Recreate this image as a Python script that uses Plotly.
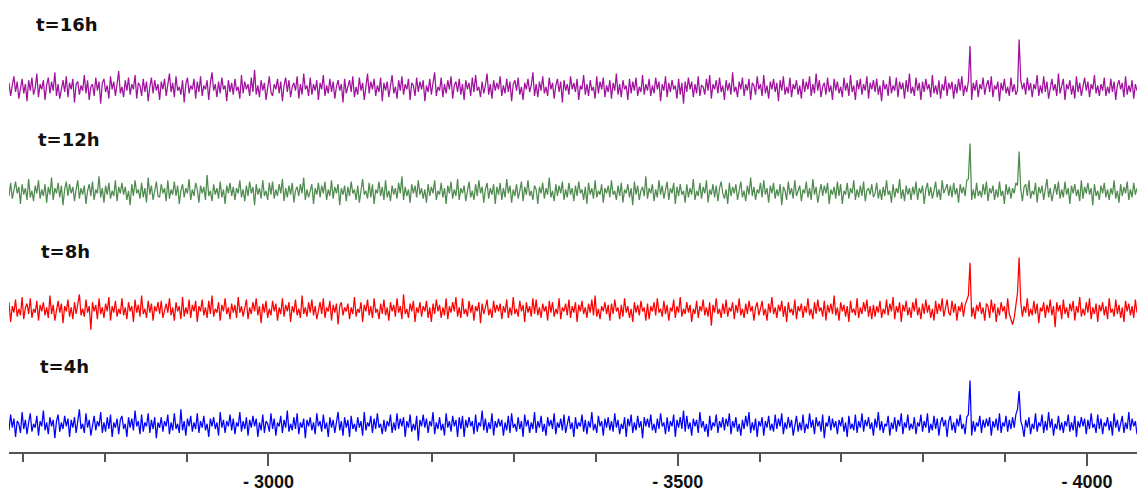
import numpy as np
import plotly.graph_objects as go

# ---- data (intensity offsets from each baseline, arbitrary units) ----
X_START = -2683
X_STEP = 2

LABELS = ["t=16h", "t=12h", "t=8h", "t=4h"]
COLORS = ["#a0129e", "#4f8b4f", "#ff0000", "#0000ff"]

# two sharp resonances (axis units) and their heights per spectrum
PEAK_X = [-3857, -3917]
PEAK_H = [[32, 37], [37, 31], [36, 40], [34, 26]]

Y_16H = [
    4,-6,2,9,-3,5,-8,1,7,-4,3,-10,6,-2,8,-5,0,11,-7,3,-1,6,-9,
    2,8,-4,5,-2,12,-6,3,-8,1,6,-3,9,-7,4,-1,7,-11,3,5,-5,2,-2,
    10,-4,6,-9,1,3,-6,8,-2,5,-12,4,7,-3,2,-8,9,-1,5,-6,3,13,-4,
    1,-7,6,-2,8,-5,3,-1,10,-8,4,2,-6,7,-3,5,-10,1,8,-4,6,-2,3,
    -9,5,-1,7,-6,2,11,-3,4,-7,9,-2,1,-5,6,-11,3,8,-4,2,-1,7,-8,
    5,-3,9,-6,2,-1,6,-9,4,12,-2,3,-7,5,-4,8,-1,2,-10,6,-3,4,-5,
    7,-2,1,-8,10,-4,5,-1,3,-6,8,-3,14,-5,2,-7,6,-2,4,-9,1,9,-3,
    -6,3,-1,7,-4,5,-10,2,8,-3,6,-7,1,4,-2,9,-8,3,-5,11,-1,2,-6,
    8,-5,3,-2,6,-9,4,-1,10,-6,2,-4,7,-3,5,-8,1,6,-2,3,-11,7,-4,
    2,6,-3,9,-7,1,-5,8,-2,4,-9,3,11,-4,5,-1,7,-6,2,-3,8,-10,4,
    -2,5,-7,3,10,-4,1,-8,6,-2,9,-5,3,-1,7,-9,4,2,-6,8,-3,5,-1,
    6,-10,2,-3,7,-5,4,12,-6,1,-2,8,-7,3,-4,6,-1,9,-8,2,5,-3,7,
    -5,3,-9,6,-1,4,-6,8,-3,10,-2,1,-7,5,-4,2,11,-5,3,-8,6,-2,4,
    -1,9,-6,2,-4,7,-3,5,-10,3,6,-2,8,-5,1,-9,4,-1,7,-3,2,12,-6,
    3,-7,5,-2,9,-4,1,-6,8,-1,4,-8,2,7,-3,5,-11,6,-2,3,-5,9,-1,
    4,-3,7,-9,2,-1,10,-5,3,-6,6,-2,1,-8,9,-4,5,-1,8,-7,2,-3,6,
    -8,4,-2,11,-5,3,-7,6,-1,2,-9,7,-4,5,-2,8,-6,1,-3,10,-5,3,-2,
    7,-6,2,-4,8,-1,5,-10,3,-2,9,-7,4,-3,6,-1,2,-8,7,-5,4,-12,5,
    -3,8,-1,5,-7,3,-4,9,-6,2,1,-5,7,-2,10,-8,3,-1,6,-4,8,-3,2,
    -9,6,-2,4,-5,12,-3,1,-7,5,-1,8,-6,3,-2,7,-9,4,2,-5,9,-1,3,
    -6,10,-4,2,-8,5,-1,7,-3,4,-10,6,-2,9,-5,1,-4,8,-7,3,-1,6,-5,
    2,-8,7,-3,5,-1,9,-6,3,-4,11,-2,6,-7,1,4,-5,8,-3,2,-9,7,-2,
    5,-4,1,-7,8,-2,4,-6,10,-3,2,-9,6,-1,7,-5,3,-2,9,-8,4,-1,6,
    -3,7,-5,2,-10,6,-1,3,-6,9,-4,2,-2,8,-7,5,-1,4,-8,6,-3,11,-4,
    1,-6,8,-2,4,-9,5,-3,7,-1,3,-7,10,-4,2,-5,6,-8,3,-2,9,-6,4,
    -1,5,-8,3,-4,7,-2,9,-6,2,-3,5,0,-9,4,-2,6,-7,3,-1,8,-5,2,
    6,-3,9,-7,2,-1,5,-10,4,-2,7,-4,1,-6,8,-3,3,-5,-2,0,6,-1,4,
    -5,8,-2,4,-7,3,-1,10,-6,2,-4,9,-3,5,-8,1,7,-2,3,-6,11,-4,2,
    7,-9,3,-1,6,-5,2,-8,9,-3,4,-6,1,8,-2,5,-7,3,-1,10,-4,2,-6,
    3,-2,8,-6,1,-4,7,-3,5,-9,2,6,-1,4,-7,9,-5,2,-3,6,-8,3,-2,
]

Y_12H = [
    -3,7,-5,2,8,-1,4,-9,6,-2,3,-6,10,-4,1,-7,5,-1,9,-5,2,-3,6,
    -8,4,-2,11,-6,3,-1,7,-4,5,-10,2,8,-3,6,-1,4,-7,2,9,-5,3,-2,
    5,-9,1,6,-3,8,-6,2,-1,12,-4,3,-8,5,-2,7,-5,1,-3,9,-7,4,-1,
    7,-2,4,-6,1,-10,6,-3,9,-1,2,-5,7,-4,3,-8,11,-2,5,-6,1,8,-3,
    -4,6,-1,3,-7,9,-5,2,-2,8,-3,5,-9,1,6,-4,3,-1,10,-6,2,-3,7,
    2,-8,5,-1,4,-6,13,-3,1,-7,6,-2,3,-5,8,-4,2,-9,5,-1,7,-3,4,
    -6,3,-1,9,-4,2,-7,5,-3,8,-1,4,-10,6,-2,3,-5,9,-3,1,-6,7,-2,
    8,-5,2,-3,6,-1,10,-7,3,-4,5,-2,7,-8,1,4,-3,6,-1,11,-6,2,-4,
    1,6,-9,3,-2,7,-4,5,-1,8,-6,2,-3,9,-5,4,-1,6,-10,3,-2,5,-7,
    4,-3,8,-1,2,-6,5,-8,3,10,-2,1,-5,7,-4,6,-9,2,-1,8,-3,4,-6,
    9,-4,1,-7,5,-2,3,-5,7,-1,12,-6,4,-3,2,-8,6,-1,5,-4,9,-2,3,
    -5,2,-8,6,-3,4,-1,9,-6,1,-2,7,-4,3,-9,5,-1,8,-5,2,-3,10,-6,
    3,-1,5,-7,2,8,-4,1,-6,6,-3,9,-1,4,-8,2,7,-5,3,-2,6,-9,4,
    -2,7,-6,3,-4,10,-1,5,-8,2,-3,6,-5,1,8,-7,4,-2,9,-3,1,-6,5,
    2,-9,4,-1,7,-5,3,-2,11,-4,1,-7,6,-3,5,-1,8,-6,2,-4,7,-2,3,
    -7,5,-3,8,-1,2,-6,4,-9,7,-2,3,-5,9,-4,1,-2,6,-8,3,-1,5,-4,
    9,-2,1,-6,5,-3,7,-8,2,-1,6,-4,3,-10,8,-2,5,-6,1,4,-3,12,-5,
    3,-1,6,-7,2,-4,9,-2,5,-5,1,8,-6,3,-1,7,-9,4,-3,6,-2,1,-8,
    6,-4,3,-2,10,-6,1,-3,7,-5,4,-1,9,-8,2,-2,6,-4,5,-7,3,8,-1,
    -5,2,-9,7,-3,4,-1,6,-6,2,8,-4,1,-7,5,-2,11,-3,4,-6,2,-1,7,
    -4,9,-2,3,-8,5,-1,7,-5,2,-3,6,-10,4,1,-6,8,-2,3,-5,9,-3,1,
    5,-7,2,-1,8,-4,3,-6,10,-2,4,-8,1,6,-3,5,-1,7,-9,2,-2,4,-5,
    8,-3,6,-9,1,-2,7,-5,3,-1,9,-6,2,-4,5,-3,8,-7,1,3,-2,6,-4,
    -1,7,-5,2,-6,4,-3,9,-2,1,-8,6,-4,3,-1,10,-5,2,-7,5,-2,3,-6,
    4,-2,8,-6,3,-1,5,-9,2,7,-3,4,-5,1,8,-4,2,-6,9,-1,3,6,-3,
    5,-4,7,-2,3,-8,6,-1,4,-3,9,10,0,-6,2,-5,7,-3,1,-4,6,-2,8,
    -7,3,-1,5,-6,2,-4,8,-3,1,-9,6,-2,4,-5,3,-1,7,5,0,2,-7,4,
    6,-3,9,-5,1,-2,7,-8,4,-1,5,-6,2,10,-4,3,-7,1,6,-2,8,-5,2,
    -4,8,-2,3,-9,5,-1,6,-3,2,-7,9,-5,4,-1,7,-2,3,-10,6,-3,1,-6,
    5,-1,7,-4,2,-6,3,-2,9,-5,1,-8,6,-3,4,-1,8,-6,2,-4,7,-2,3,
]

Y_8H = [
    6,-9,3,-2,8,-5,1,-4,10,-7,2,5,-3,9,-6,1,-2,7,-8,4,-1,6,-4,
    2,-6,11,-3,4,-8,1,7,-2,5,-10,3,-1,8,-5,2,-7,6,-3,4,12,-4,1,
    -5,8,-2,3,-15,6,-1,4,-7,9,-3,2,-6,5,-1,10,-8,3,-2,7,-5,1,-3,
    9,-4,2,-7,6,-1,3,-9,8,-2,4,-5,11,-3,1,-6,7,-2,5,-8,3,-1,6,
    -3,7,-6,1,5,-2,9,-4,2,-8,6,-1,3,-7,10,-5,2,-3,8,-6,4,-1,7,
    -9,3,-1,8,-4,2,-6,7,-3,11,-5,1,-2,6,-8,4,-1,9,-3,2,-7,5,-2,
    4,-6,10,-2,3,-5,1,8,-7,2,-3,6,-1,9,-4,3,-10,5,-2,7,-6,1,-4,
    7,-1,5,-8,2,-3,9,-5,4,-1,6,-9,3,-2,8,-4,1,-6,11,-3,2,-5,6,
    -2,8,-4,3,-7,1,6,-3,9,-6,2,-1,7,-8,4,-2,5,-11,3,6,-4,2,-1,
    5,-7,2,-3,10,-5,1,-2,6,-9,4,-1,8,-4,3,-6,9,-2,1,-7,5,-3,8,
    -4,2,-8,6,-1,4,-5,9,-2,3,-7,12,-3,1,-6,5,-1,7,-9,2,-2,6,-5,
    3,-1,7,-6,2,-9,5,-3,8,-1,4,-6,2,-4,9,-7,3,-2,6,-1,10,-5,2,
    -6,9,-3,1,-5,7,-2,4,-8,3,-1,6,-10,5,-3,2,8,-4,1,-6,7,-2,4,
    -1,5,-7,3,-2,8,-6,2,-4,10,-3,1,-5,7,-1,4,-9,6,-2,3,-5,9,-3,
    8,-4,2,-6,5,-1,3,-8,7,-2,6,-5,1,-3,9,-7,2,-1,5,-4,8,-6,3,
    -2,6,-9,4,-1,7,-3,2,-6,5,-2,8,-4,11,-5,1,-7,3,-1,6,-3,4,-8,
    5,-3,8,-1,2,-7,4,-5,9,-2,3,-6,1,-9,6,-2,4,-4,7,-1,2,-8,5,
    -7,3,-1,6,-4,9,-2,1,-5,7,-3,4,-8,2,-1,8,-6,3,-2,10,-5,1,-3,
    6,-2,4,-9,1,-3,7,-6,3,-1,8,-4,2,-5,6,-12,4,-2,9,-3,1,-6,5,
    -3,8,-5,2,-1,6,-7,4,-2,9,-4,1,-6,5,-3,7,-1,3,-8,2,6,-4,1,
    7,-4,1,-8,5,-2,10,-3,2,-6,4,-1,7,-5,3,-9,6,-2,1,-4,8,-7,3,
    -1,5,-6,3,-2,9,-4,1,-7,6,-3,8,-1,2,-5,7,-8,4,-2,5,-3,11,-4,
    2,-8,6,-1,4,-5,3,-9,7,-2,1,-4,9,-6,2,-3,6,-1,8,-5,3,-7,4,
    -5,3,-2,7,-6,1,-3,8,-4,5,-1,10,-7,3,-2,6,-9,4,-1,7,-4,2,-6,
    6,-1,9,-4,2,-7,5,-3,8,-2,4,-6,1,-8,7,-3,5,-1,9,-5,3,8,-2,
    -4,7,-2,5,-8,3,-1,6,-5,4,8,11,0,-5,2,-7,4,-1,6,-3,2,-8,5,
    3,-6,8,-2,5,-9,2,-4,6,-1,3,-7,9,-3,-8,-11,-6,4,13,0,6,-5,3,
    -2,9,-5,1,-4,7,-3,5,-10,2,-1,6,-6,4,-2,8,-4,3,-13,6,-1,4,-7,
    8,-3,2,-6,5,-1,7,-8,3,-2,10,-5,1,-4,6,-2,9,-7,2,-3,5,-9,4,
    -1,6,-4,3,-7,9,-2,1,-5,8,-3,4,-6,2,-9,7,-1,5,-4,3,-6,8,-2,
]

Y_4H = [
    -4,8,-2,5,-9,3,1,-6,10,-3,4,-7,2,9,-5,1,-2,7,-8,3,-1,11,-4,
    2,-7,6,-1,4,-10,3,8,-5,2,-3,7,-1,5,-9,4,-2,6,-6,3,12,-3,1,
    -6,9,-2,4,-8,1,7,-4,3,-1,10,-6,2,-5,6,-3,8,-9,2,-2,5,-7,4,
    7,-3,1,-9,6,-2,5,-4,11,-1,3,-7,8,-5,2,-1,9,-6,4,-3,6,-10,2,
    -2,6,-5,3,-1,8,-7,2,-4,9,-3,1,-6,12,-4,3,-8,5,-1,7,-5,2,-3,
    9,-6,3,-2,7,-4,1,-9,5,-1,6,-3,2,-8,10,-2,4,-6,3,-1,8,-4,5,
    -7,2,-1,10,-5,3,-3,6,-8,4,-2,7,-1,5,-9,2,-4,8,-6,3,1,-5,9,
    -3,5,-8,2,-1,7,-6,4,-2,11,-5,1,-4,6,-3,9,-7,2,-2,5,-10,4,-1,
    6,-4,2,-7,9,-1,3,-5,8,-3,2,-9,6,-2,4,-6,1,10,-4,3,-8,6,-2,
    4,-9,7,-3,1,-5,6,-2,3,-8,10,-4,2,-1,7,-6,5,-3,9,-2,1,-7,4,
    -5,3,-1,8,-6,2,-4,9,-3,5,-1,6,-9,3,-2,8,-5,1,-4,7,-12,4,-1,
    8,-2,5,-6,3,-1,10,-7,2,-3,6,-4,1,-8,9,-2,3,-5,7,-1,4,-9,6,
    -3,7,-9,4,-2,6,-1,3,-7,8,-5,2,-1,11,-4,5,-6,2,-3,9,-8,3,-2,
    5,-1,4,-8,2,-4,7,-6,9,-2,1,-5,6,-3,3,-9,8,-1,4,-6,2,-3,10,
    -6,3,-2,7,-5,1,-8,6,-1,4,-3,9,-7,2,-2,5,-4,8,-6,1,7,-3,2,
    -9,6,-3,2,-1,8,-5,4,-7,3,-2,10,-4,1,-6,7,-1,3,-8,5,-2,6,-4,
    3,-5,9,-2,4,-7,1,-3,6,-9,5,-1,8,-6,2,-4,7,-2,3,-10,6,-1,5,
    -2,8,-4,1,-6,5,-3,9,-1,2,-7,6,-5,3,-1,8,-9,4,-2,6,-3,11,-5,
    7,-3,2,-8,5,-1,4,-6,10,-2,3,-5,1,-9,7,-4,2,-1,8,-6,3,-2,6,
    -4,5,-1,9,-7,3,-2,6,-5,1,-8,4,-3,7,-1,10,-6,2,-4,5,-9,3,-1,
    6,-8,3,-2,7,-4,1,-5,8,-3,5,-1,9,-7,2,-3,6,-2,4,-8,1,7,-5,
    2,-4,8,-6,1,-3,9,-2,4,-7,6,-1,3,-5,8,-10,2,-1,7,-4,5,-2,3,
    -7,4,-1,6,-5,2,-9,7,-3,1,-4,8,-6,3,-2,9,-5,4,-1,6,-3,2,-8,
    5,-2,10,-4,3,-6,1,-1,7,-8,2,-3,6,-5,4,-1,9,-7,2,-2,8,-4,1,
    -3,6,-7,2,-1,8,-5,3,-2,9,-6,1,-4,7,-3,5,-8,2,6,-1,4,-9,3,
    7,-4,2,-6,5,-1,8,-3,1,-7,6,8,0,-8,3,-5,2,-1,7,-6,4,-2,5,
    -1,6,-8,3,-2,5,-4,9,-6,2,-1,7,-5,4,-3,6,-2,8,12,0,3,-1,-9,
    4,-2,6,-7,1,-3,9,-5,2,-1,8,-6,3,-4,10,-2,5,-8,1,-3,7,-4,2,
    -6,3,-1,8,-5,2,-4,7,-9,3,-2,6,-1,5,-7,4,-3,9,-2,1,-6,8,-3,
    5,-7,2,-1,6,-4,3,-8,9,-2,4,-5,1,7,-6,2,-3,10,-4,5,-1,3,-7,
]

SERIES = [Y_16H, Y_12H, Y_8H, Y_4H]

MAJOR_TICKS = [-3000, -3500, -4000]
MAJOR_TEXT = ["- 3000", "- 3500", "- 4000"]
X_END = -4061

# ---- layout helpers (pixel geometry of the page) ----
W, H = 1137, 493
ML, MR, MT, MB = 9, 0, 0, 40
PH = H - MT - MB
PW = W - ML - MR

def py2paper(py):
    return (PH - (py - MT)) / PH

def px2paper(px):
    return (px - ML) / PW

BASELINES_PX = [88, 192, 310, 425]   # vertical baseline of each trace
LABEL_POS_PX = [(34, 25), (36, 139), (39, 252), (38, 366)]
Y_RANGE = [-19, 42]
PANEL_UP_PX, PANEL_DOWN_PX = 55, 25

fig = go.Figure()
axis_names = ["y4", "y3", "y2", "y"]
layout_axes = {}
for vals, peaks, color, base, ax in zip(SERIES, PEAK_H, COLORS, BASELINES_PX, axis_names):
    x = X_START - X_STEP * np.arange(len(vals))
    y = np.array(vals, dtype=float)
    for px_val, ph in zip(PEAK_X, peaks):
        y[int(np.argmin(np.abs(x - px_val)))] = ph
    fig.add_trace(go.Scatter(x=x, y=y, mode="lines", xaxis="x", yaxis=ax,
                             line=dict(color=color, width=1.25), hoverinfo="skip",
                             showlegend=False))
    dom = [py2paper(base + PANEL_DOWN_PX), py2paper(base - PANEL_UP_PX)]
    key = "yaxis" if ax == "y" else "yaxis" + ax[1:]
    layout_axes[key] = dict(domain=dom, range=Y_RANGE, visible=False,
                            fixedrange=True, anchor="x")

for (lx, ly), text in zip(LABEL_POS_PX, LABELS):
    fig.add_annotation(x=px2paper(lx), y=py2paper(ly), xref="paper", yref="paper",
                       xanchor="left", yanchor="middle", showarrow=False, text=text,
                       font=dict(family="DejaVu Sans", size=18, color="#111111",
                                 weight="bold"))

fig.update_layout(
    width=W, height=H,
    margin=dict(l=ML, r=MR, t=MT, b=MB),
    paper_bgcolor="white", plot_bgcolor="white",
    xaxis=dict(
        range=[X_START, X_END],
        anchor="free", position=0,
        showgrid=False, zeroline=False,
        showline=True, linecolor="#555555", linewidth=2,
        ticks="outside", ticklen=12, tickwidth=1.5, tickcolor="#555555",
        tickmode="array", tickvals=MAJOR_TICKS, ticktext=MAJOR_TEXT,
        tickfont=dict(family="Liberation Sans", size=18, color="#111111",
                      weight="bold"),
        minor=dict(tickmode="linear", tick0=0, dtick=100, ticks="outside",
                   ticklen=8, tickwidth=1.5, tickcolor="#555555", showgrid=False),
        fixedrange=True,
    ),
    **layout_axes,
)

fig.write_html("out.html", config={"displayModeBar": False},
               post_script="document.body.style.margin='0px';")
